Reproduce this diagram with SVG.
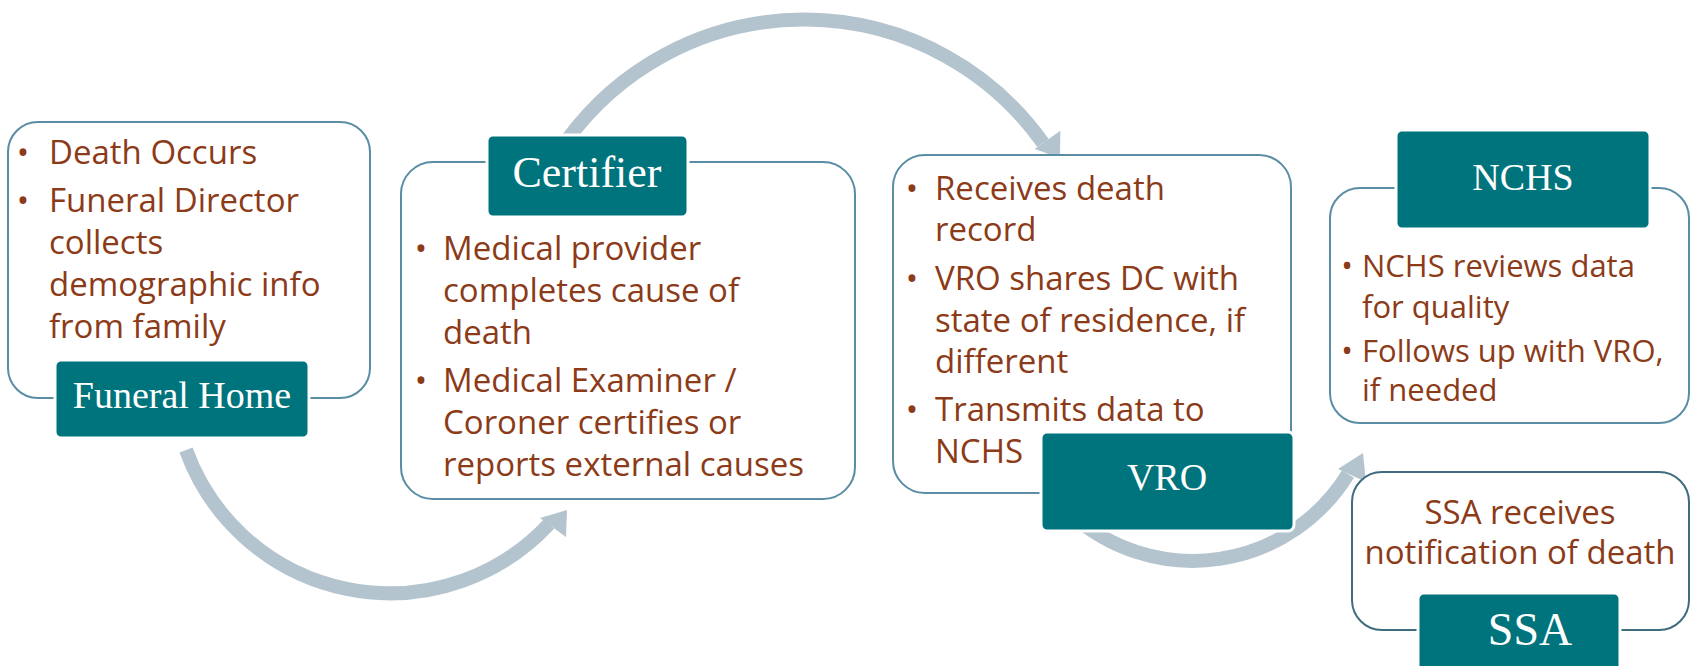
<svg xmlns="http://www.w3.org/2000/svg" width="1692" height="666" viewBox="0 0 1692 666">
  <style>
    .box { fill: #ffffff; stroke: #5a8ca4; stroke-width: 2; }
    .box2 { fill: #ffffff; stroke: #3f6c7e; stroke-width: 2; }
    .lbl { fill: #00747d; stroke: #ffffff; stroke-width: 3; }
    .lt { font-family: 'Liberation Serif', 'Times New Roman', serif; fill: #ffffff; text-anchor: middle; }
    .bt { font-family: 'Open Sans', 'Noto Sans', sans-serif; font-size: 33px; fill: #8c3b19; }
    .bt31 { font-size: 31px; }
    .bu { text-anchor: middle; }
    .mid { text-anchor: middle; }
    .shaft { fill: none; stroke: #b4c4ce; stroke-width: 14; stroke-linecap: butt; }
    .head { fill: #b4c4ce; }
  </style>
  <rect width="1692" height="666" fill="#ffffff"/>
  <g id="connectors">
    <path class="shaft" d="M186,450 A217,217 0 0 0 549,524"/>
    <polygon class="head" points="567,510 540,518 566,537"/>
    <path class="shaft" d="M567,140 A293.3,293.3 0 0 1 1043,143"/>
    <polygon class="head" points="1060,158 1034.6,148.9 1060.3,130.7"/>
    <path class="shaft" d="M1072,515 A182,182 0 0 0 1348,474"/>
    <polygon class="head" points="1363,453 1338,469 1366,482"/>
  </g>
  <g id="funeral-home">
    <rect class="box" x="8" y="122" width="362" height="276" rx="30"/>
    <text class="bt bu" x="23" y="164">•</text>
    <text class="bt" x="49" y="164">Death Occurs</text>
    <text class="bt bu" x="23" y="212">•</text>
    <text class="bt" x="49" y="212">Funeral Director</text>
    <text class="bt" x="49" y="254">collects</text>
    <text class="bt" x="49" y="296">demographic info</text>
    <text class="bt" x="49" y="338">from family</text>
    <rect class="lbl" x="55" y="360" width="254" height="78" rx="6"/>
    <text class="lt" x="182" y="408" font-size="38">Funeral Home</text>
  </g>
  <g id="certifier">
    <rect class="box" x="401" y="162" width="454" height="337" rx="32"/>
    <text class="bt bu" x="421" y="260">•</text>
    <text class="bt" x="443" y="260">Medical provider</text>
    <text class="bt" x="443" y="302">completes cause of</text>
    <text class="bt" x="443" y="344">death</text>
    <text class="bt bu" x="421" y="392">•</text>
    <text class="bt" x="443" y="392">Medical Examiner /</text>
    <text class="bt" x="443" y="434">Coroner certifies or</text>
    <text class="bt" x="443" y="476">reports external causes</text>
    <rect class="lbl" x="487" y="135" width="201" height="82" rx="6"/>
    <text class="lt" x="587" y="187" font-size="44">Certifier</text>
  </g>
  <g id="vro">
    <rect class="box" x="893" y="155" width="398" height="338" rx="32"/>
    <text class="bt bu" x="912" y="200">•</text>
    <text class="bt" x="935" y="200">Receives death</text>
    <text class="bt" x="935" y="241">record</text>
    <text class="bt bu" x="912" y="290">•</text>
    <text class="bt" x="935" y="290">VRO shares DC with</text>
    <text class="bt" x="935" y="332">state of residence, if</text>
    <text class="bt" x="935" y="373">different</text>
    <text class="bt bu" x="912" y="421">•</text>
    <text class="bt" x="935" y="421">Transmits data to</text>
    <text class="bt" x="935" y="463">NCHS</text>
    <rect class="lbl" x="1041" y="432" width="253" height="99" rx="6"/>
    <text class="lt" x="1167" y="490" font-size="38">VRO</text>
  </g>
  <g id="nchs">
    <rect class="box" x="1330" y="188" width="359" height="235" rx="30"/>
    <text class="bt bt31 bu" x="1347" y="277">•</text>
    <text class="bt bt31" x="1362" y="277">NCHS reviews data</text>
    <text class="bt bt31" x="1362" y="318">for quality</text>
    <text class="bt bt31 bu" x="1347" y="362">•</text>
    <text class="bt bt31" x="1362" y="362">Follows up with VRO,</text>
    <text class="bt bt31" x="1362" y="401">if needed</text>
    <rect class="lbl" x="1396" y="130" width="254" height="99" rx="6"/>
    <text class="lt" x="1523" y="190" font-size="38">NCHS</text>
  </g>
  <g id="ssa">
    <rect class="box2" x="1352" y="472" width="337" height="158" rx="30"/>
    <text class="bt mid" x="1520" y="524">SSA receives</text>
    <text class="bt mid" x="1520" y="564">notification of death</text>
    <rect class="lbl" x="1418" y="593" width="202" height="80" rx="6"/>
    <text class="lt" x="1530" y="645" font-size="46">SSA</text>
  </g>
</svg>
